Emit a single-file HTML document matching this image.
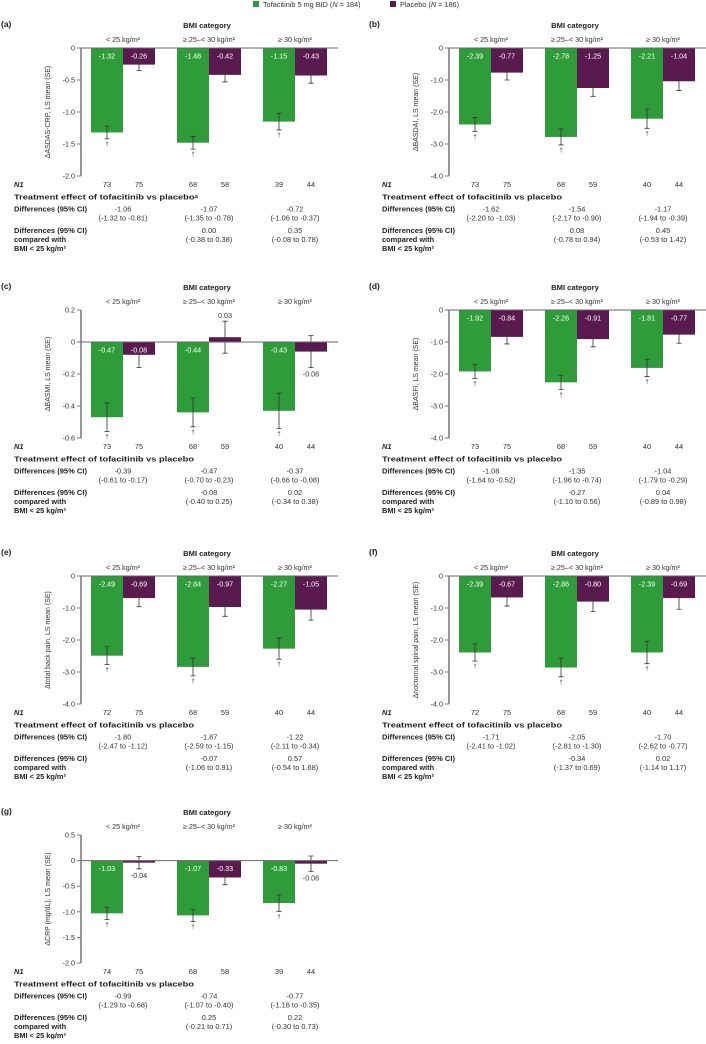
<!DOCTYPE html>
<html><head><meta charset="utf-8">
<style>
body{margin:0;background:#fff;width:706px;height:1039px;overflow:hidden;font-family:"Liberation Sans",Arial,sans-serif;}
svg text{font-family:"Liberation Sans",Arial,sans-serif;}
</style></head>
<body>
<svg id="fig" width="706" height="1039" viewBox="0 0 706 1039" xmlns="http://www.w3.org/2000/svg">
<g>
<rect x="253" y="1" width="6" height="6" fill="#2f9c3a"/>
<text x="263" y="7" font-size="7.3" fill="#333">Tofacitinib 5 mg BID (<tspan font-style="italic">N</tspan> = 184)</text>
<rect x="390" y="1" width="6" height="6" fill="#5b1a4f"/>
<text x="400" y="7" font-size="7.3" fill="#333">Placebo (<tspan font-style="italic">N</tspan> = 186)</text>
</g>
</svg>
<script>
const groupLabels = ["< 25 kg/m²", "≥ 25–< 30 kg/m²", "≥ 30 kg/m²"];
// (a) ASDAS-CRP
const tofaA = [-1.32, -1.48, -1.15]; const tofaSeA = [0.10, 0.10, 0.13];
const placA = [-0.26, -0.42, -0.43]; const placSeA = [0.09, 0.11, 0.12];
const n1A = [73, 75, 68, 58, 39, 44];
const diffA = ["-1.06", "-1.07", "-0.72"]; const diffCiA = ["(-1.32 to -0.81)", "(-1.35 to -0.78)", "(-1.06 to -0.37)"];
const cmpA = ["0.00", "0.35"]; const cmpCiA = ["(-0.38 to 0.38)", "(-0.08 to 0.78)"];
const ticksA = [0, -0.5, -1.0, -1.5, -2.0]; const tickLabelsA = ["0", "-0.5", "-1.0", "-1.5", "-2.0"];
// (b) BASDAI
const tofaB = [-2.39, -2.78, -2.21]; const tofaSeB = [0.22, 0.25, 0.30];
const placB = [-0.77, -1.25, -1.04]; const placSeB = [0.23, 0.26, 0.29];
const n1B = [73, 75, 68, 59, 40, 44];
const diffB = ["-1.62", "-1.54", "-1.17"]; const diffCiB = ["(-2.20 to -1.03)", "(-2.17 to -0.90)", "(-1.94 to -0.39)"];
const cmpB = ["0.08", "0.45"]; const cmpCiB = ["(-0.78 to 0.94)", "(-0.53 to 1.42)"];
const ticksB = [0, -1, -2, -3, -4]; const tickLabelsB = ["0", "-1.0", "-2.0", "-3.0", "-4.0"];
// (c) BASMI
const tofaC = [-0.47, -0.44, -0.43]; const tofaSeC = [0.09, 0.09, 0.11];
const placC = [-0.08, 0.03, -0.06]; const placSeC = [0.08, 0.10, 0.10];
const n1C = [73, 75, 68, 59, 40, 44];
const diffC = ["-0.39", "-0.47", "-0.37"]; const diffCiC = ["(-0.61 to -0.17)", "(-0.70 to -0.23)", "(-0.66 to -0.08)"];
const cmpC = ["-0.08", "0.02"]; const cmpCiC = ["(-0.40 to 0.25)", "(-0.34 to 0.38)"];
const ticksC = [0.2, 0, -0.2, -0.4, -0.6]; const tickLabelsC = ["0.2", "0", "-0.2", "-0.4", "-0.6"];
// (d) BASFI
const tofaD = [-1.92, -2.26, -1.81]; const tofaSeD = [0.22, 0.22, 0.27];
const placD = [-0.84, -0.91, -0.77]; const placSeD = [0.22, 0.24, 0.27];
const n1D = [73, 75, 68, 59, 40, 44];
const diffD = ["-1.08", "-1.35", "-1.04"]; const diffCiD = ["(-1.64 to -0.52)", "(-1.96 to -0.74)", "(-1.79 to -0.29)"];
const cmpD = ["-0.27", "0.04"]; const cmpCiD = ["(-1.10 to 0.56)", "(-0.89 to 0.98)"];
// (e) total back pain
const tofaE = [-2.49, -2.84, -2.27]; const tofaSeE = [0.28, 0.28, 0.33];
const placE = [-0.69, -0.97, -1.05]; const placSeE = [0.27, 0.29, 0.33];
const n1E = [72, 75, 68, 59, 40, 44];
const diffE = ["-1.80", "-1.87", "-1.22"]; const diffCiE = ["(-2.47 to -1.12)", "(-2.59 to -1.15)", "(-2.11 to -0.34)"];
const cmpE = ["-0.07", "0.57"]; const cmpCiE = ["(-1.06 to 0.91)", "(-0.54 to 1.68)"];
// (f) nocturnal spinal pain
const tofaF = [-2.39, -2.86, -2.39]; const tofaSeF = [0.27, 0.29, 0.35];
const placF = [-0.67, -0.80, -0.69]; const placSeF = [0.27, 0.31, 0.35];
const n1F = [72, 75, 68, 59, 40, 44];
const diffF = ["-1.71", "-2.05", "-1.70"]; const diffCiF = ["(-2.41 to -1.02)", "(-2.81 to -1.30)", "(-2.62 to -0.77)"];
const cmpF = ["-0.34", "0.02"]; const cmpCiF = ["(-1.37 to 0.69)", "(-1.14 to 1.17)"];
// (g) CRP
const tofaG = [-1.03, -1.07, -0.83]; const tofaSeG = [0.12, 0.12, 0.16];
const placG = [-0.04, -0.33, -0.06]; const placSeG = [0.12, 0.14, 0.15];
const n1G = [74, 75, 68, 58, 39, 44];
const diffG = ["-0.99", "-0.74", "-0.77"]; const diffCiG = ["(-1.29 to -0.68)", "(-1.07 to -0.40)", "(-1.18 to -0.35)"];
const cmpG = ["0.25", "0.22"]; const cmpCiG = ["(-0.21 to 0.71)", "(-0.30 to 0.73)"];
const ticksG = [0.5, 0, -0.5, -1.0, -1.5, -2.0]; const tickLabelsG = ["0.5", "0", "-0.5", "-1.0", "-1.5", "-2.0"];

const panels = [
 {id:"a", x:0, y:0, ytitle:"ΔASDAS-CRP, LS mean (SE)", sup:true, tofa:tofaA, tse:tofaSeA, plac:placA, pse:placSeA, n1:n1A, diff:diffA, diffCi:diffCiA, cmp:cmpA, cmpCi:cmpCiA, ticks:ticksA, tl:tickLabelsA},
 {id:"b", x:368, y:0, ytitle:"ΔBASDAI, LS mean (SE)", tofa:tofaB, tse:tofaSeB, plac:placB, pse:placSeB, n1:n1B, diff:diffB, diffCi:diffCiB, cmp:cmpB, cmpCi:cmpCiB, ticks:ticksB, tl:tickLabelsB},
 {id:"c", x:0, y:262, ytitle:"ΔBASMI, LS mean (SE)", tofa:tofaC, tse:tofaSeC, plac:placC, pse:placSeC, n1:n1C, diff:diffC, diffCi:diffCiC, cmp:cmpC, cmpCi:cmpCiC, ticks:ticksC, tl:tickLabelsC},
 {id:"d", x:368, y:262, ytitle:"ΔBASFI, LS mean (SE)", tofa:tofaD, tse:tofaSeD, plac:placD, pse:placSeD, n1:n1D, diff:diffD, diffCi:diffCiD, cmp:cmpD, cmpCi:cmpCiD, ticks:ticksB, tl:tickLabelsB},
 {id:"e", x:0, y:528, ytitle:"Δtotal back pain, LS mean (SE)", tofa:tofaE, tse:tofaSeE, plac:placE, pse:placSeE, n1:n1E, diff:diffE, diffCi:diffCiE, cmp:cmpE, cmpCi:cmpCiE, ticks:ticksB, tl:tickLabelsB},
 {id:"f", x:368, y:528, ytitle:"Δnocturnal spinal pain, LS mean (SE)", tofa:tofaF, tse:tofaSeF, plac:placF, pse:placSeF, n1:n1F, diff:diffF, diffCi:diffCiF, cmp:cmpF, cmpCi:cmpCiF, ticks:ticksB, tl:tickLabelsB},
 {id:"g", x:0, y:787, ytitle:"ΔCRP (mg/dL), LS mean (SE)", tofa:tofaG, tse:tofaSeG, plac:placG, pse:placSeG, n1:n1G, diff:diffG, diffCi:diffCiG, cmp:cmpG, cmpCi:cmpCiG, ticks:ticksG, tl:tickLabelsG}
];

const NS = "http://www.w3.org/2000/svg";
const fig = document.getElementById("fig");
const GREEN = "#2f9c3a", PURPLE = "#5b1a4f", TXT = "#333";
const FS = 7.4;
function mk(tag, attrs, parent, txt){
  const e = document.createElementNS(NS, tag);
  for (const k in attrs) e.setAttribute(k, attrs[k]);
  if (txt !== undefined) e.textContent = txt;
  parent.appendChild(e); return e;
}
function fmt(v){ return v.toFixed(2); }

panels.forEach(p => {
  const g = mk("g", {transform:`translate(${p.x},${p.y})`}, fig);
  
  
  const axX = 81, top = 48, bot = 176, right = 338;
  const vMax = p.ticks[0], vMin = p.ticks[p.ticks.length-1];
  const yS = v => top + (vMax - v) / (vMax - vMin) * (bot - top);
  const centers = [123, 209, 295];

  let t = mk("text", {x:1, y:27, "font-size":8.5, "font-weight":"bold", fill:"#222"}, g, "(" + p.id + ")");
  
  
  t = mk("text", {x:207, y:28, "font-size":7.6, "font-weight":"bold", fill:"#222", "text-anchor":"middle"}, g, "BMI category");
  
  
  groupLabels.forEach((l, i) => {
    const s = mk("text", {x:centers[i], y:42, "font-size":7.2, fill:TXT, "text-anchor":"middle"}, g, l);
    
    
  });

  t = mk("text", {x:0, y:0, "font-size":7, fill:TXT, "text-anchor":"middle", transform:`translate(50,${(top+bot)/2}) rotate(-90)`}, g, p.ytitle);
  
  

  p.ticks.forEach((v, i) => {
    const y = yS(v);
    const tk = mk("line", {x1:axX-4, x2:axX, y1:y, y2:y, stroke:"#777", "stroke-width":1}, g);
    
    
    const tl = mk("text", {x:axX-6, y:y+2.5, "font-size":7.2, fill:TXT, "text-anchor":"end"}, g, p.tl[i]);
    
    
  });

  const y0 = yS(0);
  const drawBar = (v, se, cx, color, kind, gi) => {
    const x0 = cx - 16, w = 32;
    const yv = yS(v);
    const r = mk("rect", {x:x0, y:Math.min(y0, yv), width:w, height:Math.abs(yv - y0), fill:color}, g);
    
    
    const ya = yS(v + se), yb = yS(v - se);
    const eb = mk("path", {d:`M${cx},${ya}V${yb}M${cx-2.5},${ya}H${cx+2.5}M${cx-2.5},${yb}H${cx+2.5}`, stroke:"#333", "stroke-width":0.8, fill:"none"}, g);
    
    
    const h = Math.abs(yv - y0);
    let lbl;
    if (h >= 12 && v < 0) {
      lbl = mk("text", {x:cx, y:y0+10.5, "font-size":7.2, fill:"#fff", "text-anchor":"middle"}, g, fmt(v));
    } else if (v >= 0) {
      lbl = mk("text", {x:cx, y:ya-3, "font-size":7.2, fill:TXT, "text-anchor":"middle"}, g, fmt(v));
    } else {
      lbl = mk("text", {x:cx, y:yb+9, "font-size":7.2, fill:TXT, "text-anchor":"middle"}, g, fmt(v));
    }
    
    
    if (kind === "tofacitinib") {
      const d = mk("text", {x:cx, y:yb+7, "font-size":6, fill:TXT, "text-anchor":"middle"}, g, "†");
      
      
    }
  };
  centers.forEach((c, i) => {
    drawBar(p.tofa[i], p.tse[i], c - 16, GREEN, "tofacitinib", i);
    drawBar(p.plac[i], p.pse[i], c + 16, PURPLE, "placebo", i);
  });

  const zl = mk("line", {x1:axX, x2:right, y1:y0, y2:y0, stroke:"#666", "stroke-width":1}, g);
  
  
  const ya = mk("line", {x1:axX, x2:axX, y1:top, y2:bot, stroke:"#777", "stroke-width":1.5}, g);
  
  

  // table
  t = mk("text", {x:14, y:187, "font-size":FS, "font-weight":"bold", "font-style":"italic", fill:"#222"}, g, "N1");
  
  
  p.n1.forEach((n, i) => {
    const cx = centers[Math.floor(i/2)] + (i % 2 ? 16 : -16);
    const s = mk("text", {x:cx, y:187, "font-size":FS, fill:TXT, "text-anchor":"middle"}, g, String(n));
    
    
  });
  t = mk("text", {x:14, y:199.5, "font-size":FS, "font-weight":"bold", fill:"#222", textLength:(p.sup ? 184 : 180), lengthAdjust:"spacingAndGlyphs"}, g, "Treatment effect of tofacitinib vs placebo" + (p.sup ? "ᵃ" : ""));
  
  
  t = mk("text", {x:14, y:211.5, "font-size":FS, "font-weight":"bold", fill:"#222", textLength:73, lengthAdjust:"spacingAndGlyphs"}, g, "Differences (95% CI)");
  
  
  p.diff.forEach((d, i) => {
    const a = mk("text", {x:centers[i], y:211.5, "font-size":FS, fill:TXT, "text-anchor":"middle"}, g, d);
    
    
    const b = mk("text", {x:centers[i], y:220.5, "font-size":FS, fill:TXT, "text-anchor":"middle"}, g, p.diffCi[i]);
    
    
  });
  ["Differences (95% CI)", "compared with", "BMI < 25 kg/m²"].forEach((l, i) => {
    const attrs = {x:14, y:233 + i*9, "font-size":FS, "font-weight":"bold", fill:"#222"};
    if (i === 0) { attrs.textLength = 73; attrs.lengthAdjust = "spacingAndGlyphs"; }
    const s = mk("text", attrs, g, l);
    
    
  });
  p.cmp.forEach((d, i) => {
    const a = mk("text", {x:centers[i+1], y:233, "font-size":FS, fill:TXT, "text-anchor":"middle"}, g, d);
    
    
    const b = mk("text", {x:centers[i+1], y:242, "font-size":FS, fill:TXT, "text-anchor":"middle"}, g, p.cmpCi[i]);
    
    
  });
});
</script>
</body></html>
